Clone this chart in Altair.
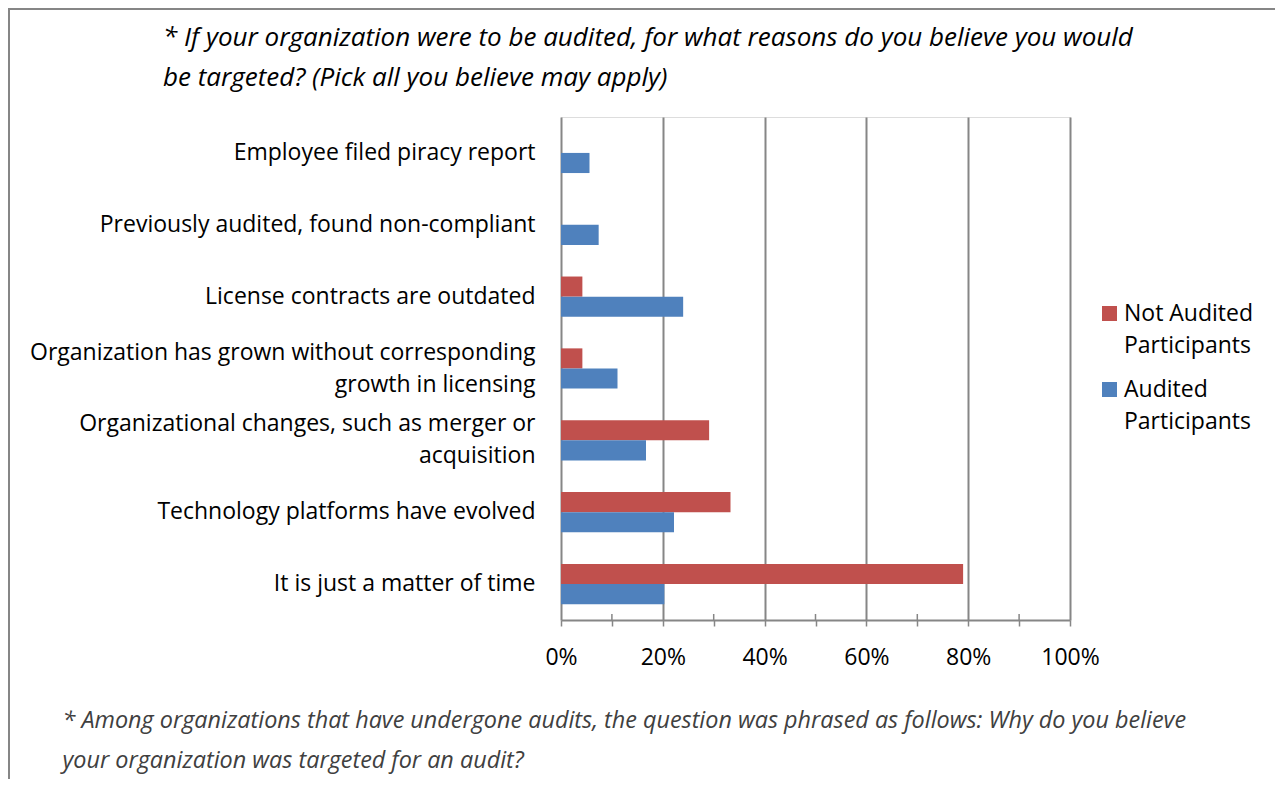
import altair as alt
import pandas as pd

categories = [
    "Employee filed piracy report",
    "Previously audited, found non-compliant",
    "License contracts are outdated",
    "Organization has grown without corresponding growth in licensing",
    "Organizational changes, such as merger or acquisition",
    "Technology platforms have evolved",
    "It is just a matter of time",
]
not_audited = [0.0, 0.0, 4.2, 4.2, 29.1, 33.3, 79.0]
audited = [5.6, 7.4, 24.0, 11.1, 16.7, 22.2, 20.3]
series = ["Not Audited Participants", "Audited Participants"]
colors = ["#C0504D", "#4F81BD"]
title_lines = [
    "* If your organization were to be audited, for what reasons do you believe you would",
    "be targeted? (Pick all you believe may apply)",
]
footnote_lines = [
    "* Among organizations that have undergone audits, the question was phrased as follows: Why do you believe",
    "your organization was targeted for an audit?",
]
x_ticks = [0, 10, 20, 30, 40, 50, 60, 70, 80, 90, 100]
minor_ticks = [10, 30, 50, 70, 90]

rows = []
for c, n, a in zip(categories, not_audited, audited):
    rows.append({"cat": c, "series": series[0], "value": n})
    rows.append({"cat": c, "series": series[1], "value": a})
df = pd.DataFrame(rows)
ticks_df = pd.DataFrame({"t": minor_ticks})

FONT = "Open Sans"
FS = 23
W, H = 509, 503

label_expr = (
    "datum.label == 'Organization has grown without corresponding growth in licensing' ? "
    "['Organization has grown without corresponding', 'growth in licensing'] : "
    "datum.label == 'Organizational changes, such as merger or acquisition' ? "
    "['Organizational changes, such as merger or', 'acquisition'] : datum.label"
)
legend_expr = (
    "datum.label == 'Not Audited Participants' ? ['Not Audited', 'Participants'] : ['Audited', 'Participants']"
)

x_scale = alt.Scale(domain=[0, 100], nice=False)

bars = alt.Chart(df).mark_bar().encode(
    y=alt.Y(
        "cat:N",
        sort=categories,
        scale=alt.Scale(paddingInner=0.44, paddingOuter=0.22),
        axis=alt.Axis(
            title=None,
            labelExpr=label_expr,
            labelFont=FONT,
            labelFontSize=FS,
            labelColor="#000000",
            labelLineHeight=32,
            labelPadding=26,
            labelLimit=600,
            labelOffset={"condition": {"test": "indexof(datum.value, 'Organiz') == 0", "value": -16}, "value": 0},
            ticks=False,
            domainColor="#868686",
            domainWidth=2,
            grid=False,
        ),
    ),
    yOffset=alt.YOffset("series:N", sort=series),
    x=alt.X(
        "value:Q",
        scale=x_scale,
        axis=alt.Axis(
            values=x_ticks,
            labelExpr="datum.value % 20 == 0 ? datum.value + '%' : ''",
            labelFont=FONT,
            labelFontSize=FS,
            labelColor="#000000",
            labelPadding=20,
            labelFlush=False,
            labelBound=False,
            tickSize=6,
            tickWidth=1.5,
            tickColor="#868686",
            domainColor="#868686",
            domainWidth=2,
            grid=True,
            gridColor="#868686",
            gridWidth=2,
            gridOpacity={"condition": {"test": "datum.value % 20 == 0 && datum.value > 0", "value": 1}, "value": 0},
            title=footnote_lines,
            titleFont=FONT,
            titleFontSize=23.4,
            titleFontStyle="italic",
            titleFontWeight="normal",
            titleColor="#404040",
            titleAlign="left",
            titleAnchor="start",
            titleX=-499,
            titleY=89,
            titleLineHeight=40,
        ),
    ),
    color=alt.Color(
        "series:N",
        sort=series,
        scale=alt.Scale(domain=series, range=colors),
        legend=alt.Legend(
            title=None,
            orient="none",
            legendX=537,
            legendY=185,
            symbolType="square",
            symbolSize=225,
            symbolStrokeWidth=0,
            labelExpr=legend_expr,
            labelFont=FONT,
            labelFontSize=FS,
            labelColor="#000000",
            labelBaseline="middle",
            labelOffset=3,
            rowPadding=20,
            labelLimit=300,
        ),
    ),
)

minor = alt.Chart(ticks_df).mark_rule(color="#868686", strokeWidth=1.5).encode(
    x=alt.X("t:Q", scale=x_scale),
    y=alt.value(H - 6),
    y2=alt.value(H),
)

frame_top = alt.Chart(ticks_df).mark_rule(color="#868686", strokeWidth=2).encode(
    x=alt.value(-553), x2=alt.value(720), y=alt.value(-108)
)
frame_left = alt.Chart(ticks_df).mark_rule(color="#868686", strokeWidth=2).encode(
    x=alt.value(-552), y=alt.value(-109), y2=alt.value(700)
)

chart = alt.layer(bars, minor, frame_top, frame_left).properties(
    width=W,
    height=H,
    autosize=alt.AutoSizeParams(type="none"),
    padding={"left": 553, "top": 109, "right": 205, "bottom": 159},
    title=alt.TitleParams(
        text=title_lines,
        font=FONT,
        fontSize=26,
        fontStyle="italic",
        fontWeight="normal",
        color="#000000",
        anchor="start",
        frame="group",
        baseline="top",
        dx=-398,
        dy=84,
        lineHeight=40,
        offset=0,
    ),
).configure_view(stroke=None).configure(
    background="white",
    style={"guide-label": {"lineHeight": 32}},
)

chart.save("out.html", embed_options={"renderer": "svg", "actions": False})
